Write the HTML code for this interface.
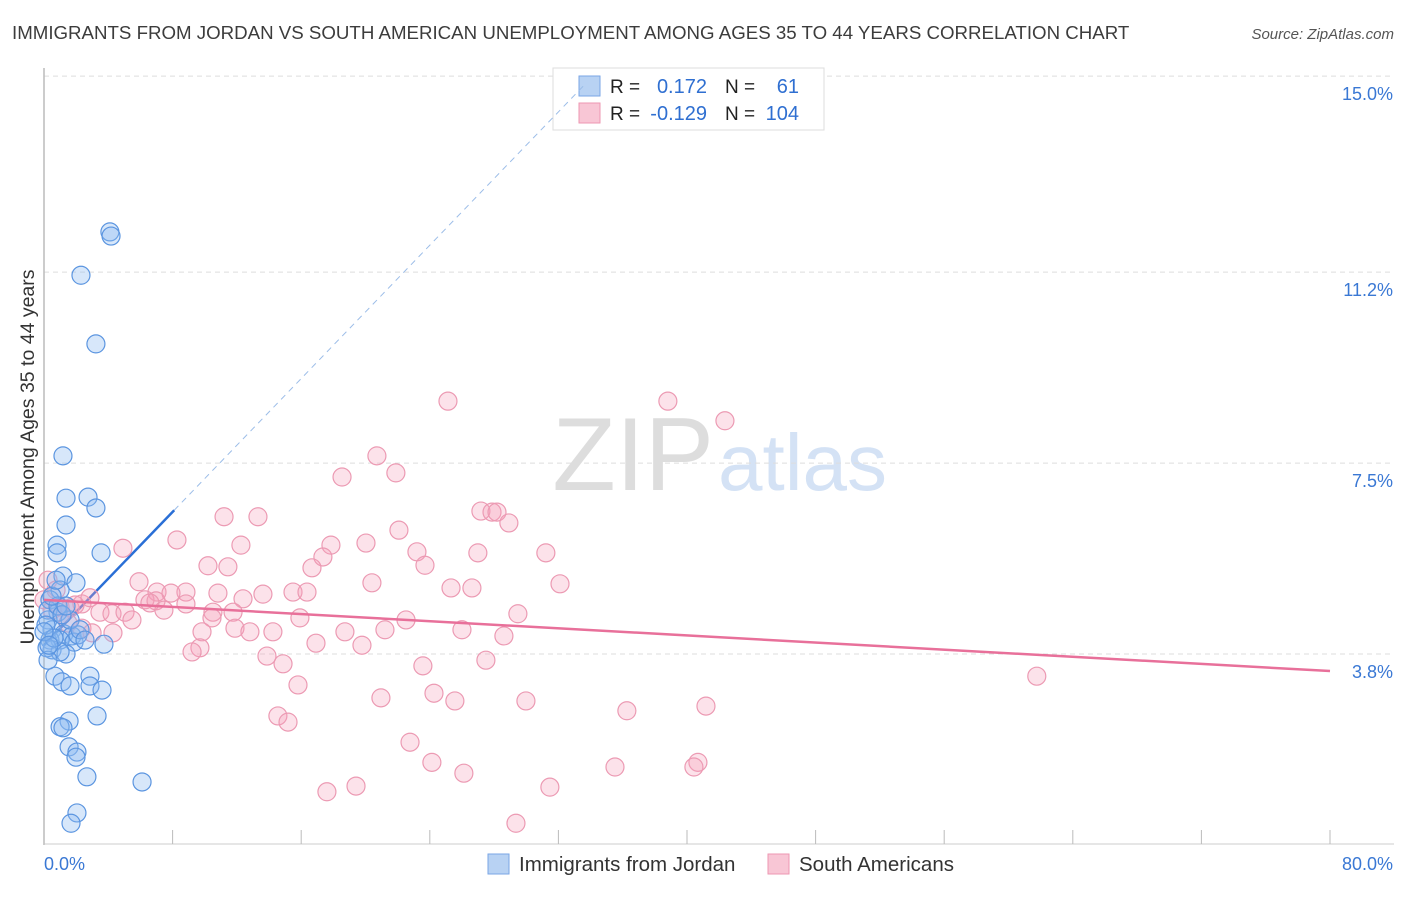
<!DOCTYPE html>
<html><head><meta charset="utf-8"><style>
body{margin:0;background:#fff;font-family:"Liberation Sans",sans-serif}
svg text{font-family:"Liberation Sans",sans-serif}
</style></head><body>
<svg id="chart" width="1406" height="892" xmlns="http://www.w3.org/2000/svg">
<text x="12" y="39" font-size="18.7" fill="#3c3c3c">IMMIGRANTS FROM JORDAN VS SOUTH AMERICAN UNEMPLOYMENT AMONG AGES 35 TO 44 YEARS CORRELATION CHART</text>
<text x="1394" y="39" font-size="15" fill="#555" font-style="italic" text-anchor="end">Source: ZipAtlas.com</text>
<text transform="translate(34,457) rotate(-90)" font-size="19.5" fill="#333" text-anchor="middle">Unemployment Among Ages 35 to 44 years</text>
<text x="714" y="490" font-size="104" fill="#ddd" text-anchor="end" font-family="Liberation Serif">ZIP</text>
<text x="718" y="490" font-size="80" fill="#d4e2f5">atlas</text>
<g id="grid"></g><g id="axes"></g>
<g>
<rect x="553" y="68" width="271" height="62" fill="#fff" stroke="#ddd"/>
<rect x="579" y="76" width="21" height="20" fill="#b8d2f3" stroke="#7aa6e6"/>
<rect x="579" y="103" width="21" height="20" fill="#f8c6d5" stroke="#ee97b2"/>
<text x="610" y="93" font-size="19" fill="#222">R =</text><text x="707" y="93" font-size="20" fill="#2f6fd1" text-anchor="end">0.172</text>
<text x="725" y="93" font-size="19" fill="#222">N =</text><text x="799" y="93" font-size="20" fill="#2f6fd1" text-anchor="end">61</text>
<text x="610" y="120" font-size="19" fill="#222">R =</text><text x="707" y="120" font-size="20" fill="#2f6fd1" text-anchor="end">-0.129</text>
<text x="725" y="120" font-size="19" fill="#222">N =</text><text x="799" y="120" font-size="20" fill="#2f6fd1" text-anchor="end">104</text>
</g>
<g id="trend"></g><g id="pts"></g>
<g>
<rect x="488" y="854" width="21" height="20" fill="#b8d2f3" stroke="#7aa6e6"/>
<text x="519" y="871" font-size="20.5" fill="#333">Immigrants from Jordan</text>
<rect x="768" y="854" width="21" height="20" fill="#f8c6d5" stroke="#ee97b2"/>
<text x="799" y="871" font-size="20.5" fill="#333">South Americans</text>
</g>
</svg>
<script>
const blueX=[4.1,4.17,2.3,3.23,1.18,1.37,2.74,3.23,1.37,0.81,0.81,3.55,1.18,1.99,1.0,0.37,0.87,0.25,0.5,1.24,1.74,0.37,1.0,1.87,2.11,3.73,0.5,1.37,1.0,0.19,0.68,2.86,1.12,1.62,2.86,3.61,3.30,1.56,1.0,1.18,1.56,2.05,1.99,2.67,6.1,2.05,1.68,0.25,0.12,0.87,0.62,1.62,0,0.25,1.12,2.24,0.5,1.37,0.75,0.31,2.55];
const blueY=[11.98,11.9,11.14,9.81,7.64,6.82,6.84,6.63,6.30,5.91,5.76,5.76,5.31,5.18,5.04,4.85,4.61,4.46,4.27,4.19,4.15,4.07,4.07,4.03,4.17,3.99,3.88,3.80,3.84,3.92,3.37,3.37,3.26,3.18,3.18,3.10,2.60,2.50,2.39,2.37,2.0,1.90,1.80,1.42,1.32,0.72,0.52,4.65,4.36,4.73,4.11,4.46,4.23,3.68,4.56,4.27,4.92,4.73,5.23,3.97,4.07];
const pinkX=[25.13,38.81,42.36,20.71,18.54,21.89,11.20,13.31,27.18,27.87,28.18,28.92,22.08,8.27,4.91,12.25,17.85,20.03,23.20,26.99,31.22,17.35,10.20,11.44,16.67,23.70,5.91,20.40,7.03,25.32,26.62,32.10,13.62,15.49,16.36,10.82,8.83,7.90,6.28,6.97,6.59,8.83,12.38,0.50,1.0,1.62,2.36,2.86,3.48,4.23,5.04,5.47,1.49,2.36,2.99,4.29,7.46,10.51,11.76,10.45,11.88,12.81,14.24,15.92,22.52,29.48,26.0,21.21,18.72,9.83,9.70,9.21,16.92,19.78,28.61,13.87,14.87,23.57,27.49,15.80,20.96,24.26,25.56,29.98,36.26,41.18,14.55,15.18,22.77,24.13,35.52,40.68,40.43,26.12,19.41,17.60,31.47,29.36,61.76,0.25,0,0.75,1.12,1.93];
const pinkY=[8.70,8.70,8.32,7.64,7.23,7.31,6.46,6.46,6.57,6.55,6.55,6.34,6.20,6.01,5.85,5.91,5.91,5.95,5.78,5.76,5.76,5.68,5.51,5.49,5.47,5.52,5.20,5.18,5.00,5.08,5.08,5.16,4.96,5.00,5.00,4.98,5.00,4.98,4.85,4.83,4.79,4.77,4.87,4.65,4.71,4.69,4.77,4.89,4.61,4.58,4.61,4.46,4.40,4.30,4.21,4.21,4.65,4.61,4.61,4.50,4.30,4.23,4.23,4.50,4.46,4.58,4.27,4.27,4.23,4.23,3.92,3.84,4.01,3.97,4.15,3.76,3.61,3.57,3.68,3.20,2.95,3.04,2.89,2.89,2.70,2.79,2.60,2.48,2.09,1.70,1.61,1.70,1.61,1.49,1.24,1.13,1.22,0.52,3.37,5.23,4.85,5.04,4.56,4.75];
const yTicks=[3.8,7.5,11.2,15.0];
const yTickLabels=["3.8%","7.5%","11.2%","15.0%"];
const xTicks=[0,8,16,24,32,40,48,56,64,72,80];
const blueTrend=[3.97,0.323];
const pinkTrend=[4.85,-0.01725];
const NS='http://www.w3.org/2000/svg';
const sx=v=>44+v*(1286/80);
const sy=v=>654-(v-3.8)*51.6;
function mk(tag,attrs,parent){const e=document.createElementNS(NS,tag);for(const k in attrs)e.setAttribute(k,attrs[k]);parent.appendChild(e);return e;}
const grid=document.getElementById('grid'),axes=document.getElementById('axes'),trend=document.getElementById('trend'),pts=document.getElementById('pts');
yTicks.forEach((t,i)=>{
 const l=mk('line',{x1:44,x2:1394,y1:sy(t),y2:sy(t),stroke:'#ddd','stroke-dasharray':'5,4'},grid);
 
 
 const tx=mk('text',{x:1393,y:sy(t)+24,'font-size':18,fill:'#3a78d4','text-anchor':'end'},axes);
 tx.textContent=yTickLabels[i];
 
 
});
const ya=mk('line',{x1:44,x2:44,y1:68,y2:845,stroke:'#bbb','stroke-width':1.5},axes);


const xa=mk('line',{x1:44,x2:1394,y1:844,y2:844,stroke:'#ccc'},axes);


xTicks.forEach(t=>{
 const l=mk('line',{x1:sx(t),x2:sx(t),y1:830,y2:844,stroke:'#bbb'},axes);
 
 
});
const x0=mk('text',{x:44,y:870,'font-size':18,fill:'#3a78d4'},axes);x0.textContent='0.0%';


const x1=mk('text',{x:1393,y:870,'font-size':18,fill:'#3a78d4','text-anchor':'end'},axes);x1.textContent='80.0%';


function dot(x,y,fill,stroke,name){const c=mk('circle',{cx:sx(x),cy:sy(y),r:9,fill:fill,stroke:stroke,'stroke-width':1.2},pts);
 
 }
pinkX.forEach((x,i)=>dot(x,pinkY[i],'rgba(244,160,186,0.3)','#ec9ab3','south-american-point'));
blueX.forEach((x,i)=>dot(x,blueY[i],'rgba(140,185,240,0.35)','#5b95e0','jordan-point'));
const bEnd=8.1,bDash=33.6;
const bl=mk('line',{x1:sx(0),y1:sy(blueTrend[0]),x2:sx(bEnd),y2:sy(blueTrend[0]+blueTrend[1]*bEnd),stroke:'#2a6fd6','stroke-width':2.5},trend);


const bd=mk('line',{x1:sx(bEnd),y1:sy(blueTrend[0]+blueTrend[1]*bEnd),x2:sx(bDash),y2:sy(blueTrend[0]+blueTrend[1]*bDash),stroke:'#9cbde8','stroke-width':1,'stroke-dasharray':'6,5'},trend);


const pl=mk('line',{x1:sx(0),y1:sy(pinkTrend[0]),x2:sx(80),y2:sy(pinkTrend[0]+pinkTrend[1]*80),stroke:'#e8709a','stroke-width':2.5},pts);


</script>
</body></html>
